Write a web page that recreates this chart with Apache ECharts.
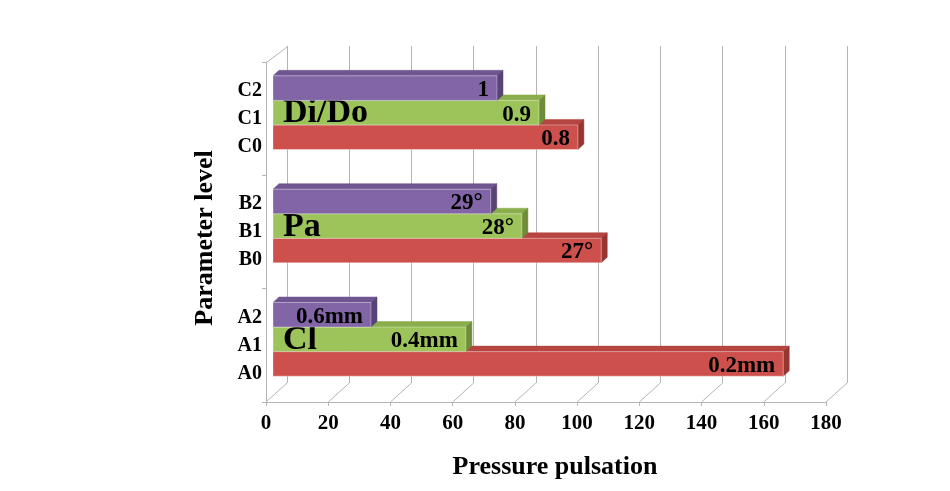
<!DOCTYPE html>
<html><head><meta charset="utf-8">
<script src="https://cdn.jsdelivr.net/npm/echarts@6/dist/echarts.min.js"></script>
<style>html,body{margin:0;padding:0;background:#fff}#c{width:950px;height:491px}</style>
</head><body><div id="c"></div>
<script>
// ---- data ----
const groups = ['A', 'B', 'C'];
const groupNames = ['Cl', 'Pa', 'Di/Do'];
const level0Values = [164, 105.5, 98];     // A0, B0, C0 (red)
const level1Values = [62, 80, 85.5];       // A1, B1, C1 (green)
const level2Values = [31.5, 70, 72];       // A2, B2, C2 (purple)
const level0Labels = ['0.2mm', '27°', '0.8'];
const level1Labels = ['0.4mm', '28°', '0.9'];
const level2Labels = ['0.6mm', '29°', '1'];
const xTicks = [0, 20, 40, 60, 80, 100, 120, 140, 160, 180];

// ---- style ----
const FONT = 'Liberation Serif';
const DEPTH = [21, -19];       // floor depth offset
const TOP_DEPTH = [21, -16];   // top wall edge offset
const FRONT = [7, -6];         // bar front face offset
const BACK = [13, -11.5];      // bar back face offset
const FILL = 0.65;
const GRID_COLOR = '#b4b4b4';
const colors = [
  {front: '#cd504c', top: '#b64541', side: '#973532'},
  {front: '#9dc35b', top: '#8aae4b', side: '#6f8c38'},
  {front: '#8265a6', top: '#705690', side: '#574375'}
];

function barRenderer(L, texts) {
  return function (params, api) {
    const gi = api.value(1), v = api.value(0);
    const p0 = api.coord([0, gi]);
    const p1 = api.coord([v, gi]);
    const band = api.size([0, 1])[1];
    const h = band * FILL / 3;
    const yT = p0[1] - 1.5 * h + (2 - L) * h + FRONT[1];
    const yB = yT + h;
    const xL = p0[0] + FRONT[0], xR = p1[0] + FRONT[0];
    const dx = BACK[0] - FRONT[0], dy = BACK[1] - FRONT[1];
    const c = colors[L];
    const children = [
      {type: 'polygon', shape: {points: [[xL, yT], [xR, yT], [xR + dx, yT + dy], [xL + dx, yT + dy]]},
       style: {fill: c.top, stroke: c.top, lineWidth: 0.5}},
      {type: 'polygon', shape: {points: [[xR, yT], [xR + dx, yT + dy], [xR + dx, yB + dy], [xR, yB]]},
       style: {fill: c.side, stroke: c.side, lineWidth: 0.5}},
      {type: 'rect', shape: {x: xL, y: yT, width: xR - xL, height: h},
       style: {fill: c.front, stroke: 'rgba(255,255,255,0.35)', lineWidth: 1}},
      {type: 'text', style: {text: texts[params.dataIndex], x: xR - 8, y: (yT + yB) / 2 + 2,
        align: 'right', verticalAlign: 'middle', fontSize: 23, fontWeight: 'bold', fontFamily: FONT, fill: '#000'}}
    ];
    if (L === 1) {
      children.push({type: 'text', style: {text: groupNames[gi], x: xL + 10, y: (yT + yB) / 2 + 1,
        align: 'left', verticalAlign: 'middle', fontSize: 34, fontWeight: 'bold', fontFamily: FONT, fill: '#000'}});
    }
    return {type: 'group', children: children};
  };
}

function frameRenderer(params, api) {
  const v = api.value(0);
  const cs = params.coordSys;
  const x = api.coord([v, 0])[0];
  const yb = cs.y + cs.height;
  const children = [
    {type: 'line', shape: {x1: x, y1: yb, x2: x + DEPTH[0], y2: yb + DEPTH[1]},
     style: {stroke: GRID_COLOR, lineWidth: 1}}
  ];
  if (params.dataIndex === 0) {
    children.push({type: 'line', shape: {x1: x, y1: cs.y + 1, x2: x + TOP_DEPTH[0], y2: cs.y + 1 + TOP_DEPTH[1]},
      style: {stroke: GRID_COLOR, lineWidth: 1}});
  }
  return {type: 'group', children: children};
}

const chart = echarts.init(document.getElementById('c'), null, {renderer: 'canvas'});
chart.setOption({
  animation: false,
  grid: [
    {left: 266, top: 62, width: 560, height: 340},
    {left: 266 + DEPTH[0], top: 46, width: 560, height: 337}
  ],
  xAxis: [
    {gridIndex: 0, type: 'value', min: 0, max: 180, interval: 20,
     splitLine: {show: false},
     axisLine: {show: true, lineStyle: {color: GRID_COLOR}},
     axisTick: {show: true, length: 4, lineStyle: {color: GRID_COLOR}},
     axisLabel: {margin: 11, fontSize: 21, fontWeight: 'bold', fontFamily: FONT, color: '#000'},
     name: 'Pressure pulsation', nameLocation: 'middle', nameGap: 52,
     nameTextStyle: {fontSize: 26, fontWeight: 'bold', fontFamily: FONT, color: '#000', padding: [0, 0, 0, 18]}},
    {gridIndex: 1, type: 'value', min: 0, max: 180, interval: 20,
     splitLine: {show: true, lineStyle: {color: GRID_COLOR, width: 1}},
     axisLine: {show: false}, axisTick: {show: false}, axisLabel: {show: false}}
  ],
  yAxis: [
    {gridIndex: 0, type: 'category', data: groups,
     axisLine: {show: true, lineStyle: {color: GRID_COLOR}},
     axisTick: {show: true, length: 4, lineStyle: {color: GRID_COLOR}},
     axisLabel: {margin: 4, fontSize: 20, fontWeight: 'bold', fontFamily: FONT, color: '#000',
       lineHeight: 28, padding: [0, 0, 14, 0],
       formatter: function (val) { return val + '2\n' + val + '1\n' + val + '0'; }},
     name: 'Parameter level', nameLocation: 'middle', nameGap: 48, nameRotate: 90,
     nameTextStyle: {fontSize: 26, fontWeight: 'bold', fontFamily: FONT, color: '#000', padding: [0, 12, 0, 0]}},
    {gridIndex: 1, type: 'category', data: groups, show: false}
  ],
  series: [
    {type: 'custom', xAxisIndex: 0, yAxisIndex: 0, z: 1, silent: true,
     renderItem: frameRenderer, data: xTicks.map(v => [v])},
    {type: 'custom', xAxisIndex: 0, yAxisIndex: 0, z: 2,
     renderItem: barRenderer(0, level0Labels), data: level0Values.map((v, i) => [v, i])},
    {type: 'custom', xAxisIndex: 0, yAxisIndex: 0, z: 3,
     renderItem: barRenderer(1, level1Labels), data: level1Values.map((v, i) => [v, i])},
    {type: 'custom', xAxisIndex: 0, yAxisIndex: 0, z: 4,
     renderItem: barRenderer(2, level2Labels), data: level2Values.map((v, i) => [v, i])}
  ]
});
</script>
</body></html>
